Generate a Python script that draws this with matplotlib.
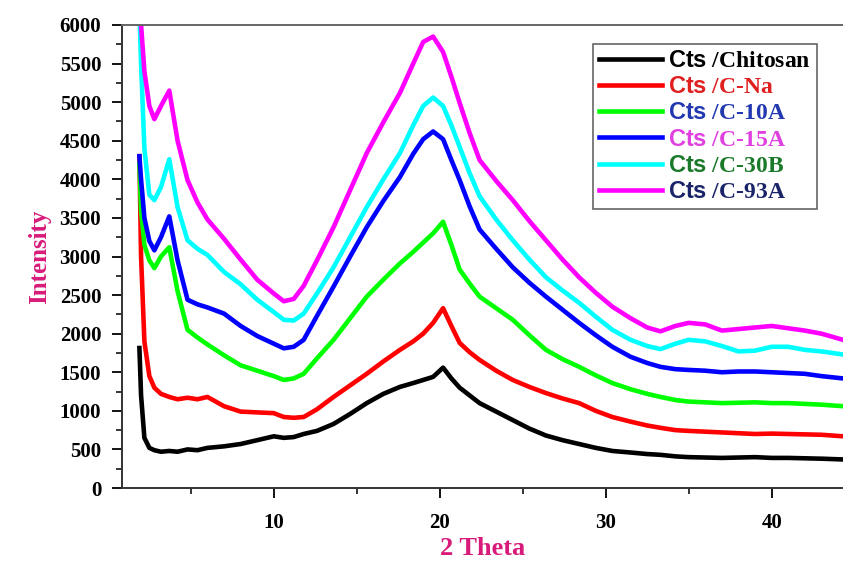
import matplotlib
matplotlib.use("Agg")
import matplotlib.pyplot as plt
from matplotlib.ticker import MultipleLocator

# XRD patterns (2 Theta vs intensity)
two_theta = [1.9, 2.0, 2.2, 2.5, 2.8, 3.2, 3.7, 4.2, 4.8, 5.4, 6.0, 7.0, 8.0, 9.0, 10.0, 10.6,
             11.2, 11.8, 12.6, 13.6, 14.6, 15.6, 16.6, 17.6, 18.4, 19.0, 19.6, 20.2, 20.7,
             21.2, 21.8, 22.4, 23.4, 24.4, 25.4, 26.4, 27.4, 28.4, 29.4, 30.4, 31.5, 32.5,
             33.3, 34.2, 35.0, 36.0, 37.0, 38.0, 39.0, 40.0, 41.0, 42.0, 43.0, 44.3]

chitosan = [1814, 1200, 650, 520, 490, 470, 480, 470, 500, 490, 520, 540, 570, 620, 670, 650,
            660, 700, 740, 830, 960, 1100, 1220, 1310, 1360, 1400, 1440, 1560, 1420,
            1300, 1200, 1100, 990, 880, 770, 680, 620, 570, 520, 480, 460, 440,
            430, 410, 400, 395, 390, 395, 400, 390, 390, 385, 380, 370]
c_na = [4300, 3000, 1900, 1450, 1300, 1220, 1180, 1150, 1170, 1150, 1180, 1060, 990, 980, 970, 920,
        910, 920, 1020, 1180, 1330, 1480, 1640, 1790, 1900, 2000, 2140, 2330, 2100,
        1880, 1760, 1660, 1520, 1400, 1310, 1230, 1160, 1100, 1000, 920, 860, 810,
        780, 750, 740, 730, 720, 710, 700, 705, 700, 695, 690, 670]
c_10a = [4200, 3600, 3150, 2950, 2850, 3000, 3120, 2550, 2050, 1950, 1860, 1720, 1590, 1520, 1450, 1400,
         1420, 1480, 1680, 1920, 2200, 2480, 2700, 2910, 3060, 3180, 3300, 3450, 3150,
         2830, 2650, 2480, 2330, 2180, 1980, 1790, 1670, 1570, 1460, 1360, 1280, 1220,
         1180, 1140, 1120, 1110, 1100, 1105, 1110, 1100, 1100, 1090, 1080, 1060]
c_15a = [4300, 4000, 3500, 3200, 3080, 3250, 3520, 2950, 2440, 2380, 2340, 2260, 2100, 1970, 1870, 1810,
         1830, 1920, 2230, 2610, 3000, 3380, 3720, 4030, 4330, 4520, 4620, 4520, 4250,
         3990, 3650, 3350, 3100, 2860, 2660, 2480, 2310, 2140, 1980, 1830, 1700, 1620,
         1570, 1540, 1530, 1520, 1500, 1510, 1510, 1500, 1490, 1480, 1450, 1420]
c_30b = [6200, 5500, 4400, 3800, 3730, 3900, 4260, 3640, 3210, 3100, 3020, 2800, 2640, 2440, 2280, 2180,
         2170, 2260, 2520, 2860, 3250, 3640, 4000, 4340, 4700, 4950, 5060, 4950, 4700,
         4420, 4080, 3780, 3480, 3210, 2960, 2730, 2560, 2400, 2220, 2050, 1920, 1840,
         1800, 1870, 1920, 1900, 1840, 1770, 1780, 1830, 1830, 1790, 1770, 1730]
c_93a = [6500, 6000, 5400, 4950, 4780, 4950, 5150, 4500, 3990, 3700, 3480, 3230, 2960, 2700, 2520, 2420,
         2450, 2620, 2950, 3380, 3860, 4340, 4740, 5120, 5500, 5780, 5850, 5650, 5330,
         4990, 4600, 4250, 3980, 3730, 3460, 3210, 2960, 2730, 2530, 2350, 2200, 2080,
         2030, 2100, 2140, 2120, 2040, 2060, 2080, 2100, 2070, 2040, 2000, 1920]

series = [chitosan, c_na, c_10a, c_15a, c_30b, c_93a]
names = ["Chitosan", "C-Na", "C-10A", "C-15A", "C-30B", "C-93A"]
line_colors = ["black", "#ff0000", "#00ff00", "#0000ff", "#00ffff", "#ff00ff"]
text_colors = ["black", "#e02020", "#2238b0", "#e040e0", "#1a7a2a", "#1a2468"]

plt.rcParams["font.family"] = ["Liberation Serif", "DejaVu Serif"]
plt.rcParams["font.weight"] = "bold"
plt.rcParams["mathtext.fontset"] = "custom"
plt.rcParams["mathtext.sf"] = "Liberation Sans:bold"
plt.rcParams["mathtext.rm"] = "Liberation Serif:bold"

fig = plt.figure(figsize=(8.43, 5.63), dpi=100)
ax = fig.add_axes([0.1447, 0.1332, 0.8553, 0.8224])

for y, name, c in zip(series, names, line_colors):
    ax.plot(two_theta, y, color=c, linewidth=3.3, label=r"$\mathsf{Cts}$ /" + name)

ax.set_xlim(0.85, 44.3)
ax.set_ylim(0, 6000)
ax.xaxis.set_major_locator(MultipleLocator(10))
ax.xaxis.set_minor_locator(MultipleLocator(5))
ax.yaxis.set_major_locator(MultipleLocator(500))
ax.yaxis.set_minor_locator(MultipleLocator(250))

ax.spines["right"].set_visible(False)
for s in ["left", "bottom", "top"]:
    ax.spines[s].set_linewidth(1.4)
    ax.spines[s].set_color("#333333")
ax.spines["top"].set_color("#666666")

ax.tick_params(which="major", direction="out", length=7, width=1.3, labelsize=15)
ax.tick_params(which="minor", direction="out", length=4, width=1.1)
ax.tick_params(axis="x", which="major", pad=11)
ax.tick_params(axis="y", which="major", pad=8)
ax.tick_params(top=False, right=False)
for lab in ax.get_xticklabels() + ax.get_yticklabels():
    lab.set_fontweight("bold")

ax.set_xlabel("2 Theta", fontsize=19, fontweight="bold", color="#d81b7a", labelpad=3)
ax.set_ylabel("Intensity", fontsize=18, fontweight="bold", color="#d81b7a", labelpad=6)

leg = ax.legend(loc="upper right", bbox_to_anchor=(0.964, 0.958), prop={"size": 17, "weight": "bold"},
                handlelength=2.7, handletextpad=0.25, labelspacing=0.2, borderpad=0.25,
                borderaxespad=0.0, fancybox=False, edgecolor="#666666", framealpha=1)
leg.get_frame().set_linewidth(1.2)
for txt, c in zip(leg.get_texts(), text_colors):
    txt.set_color(c)

fig.savefig("out.png", dpi=100)
